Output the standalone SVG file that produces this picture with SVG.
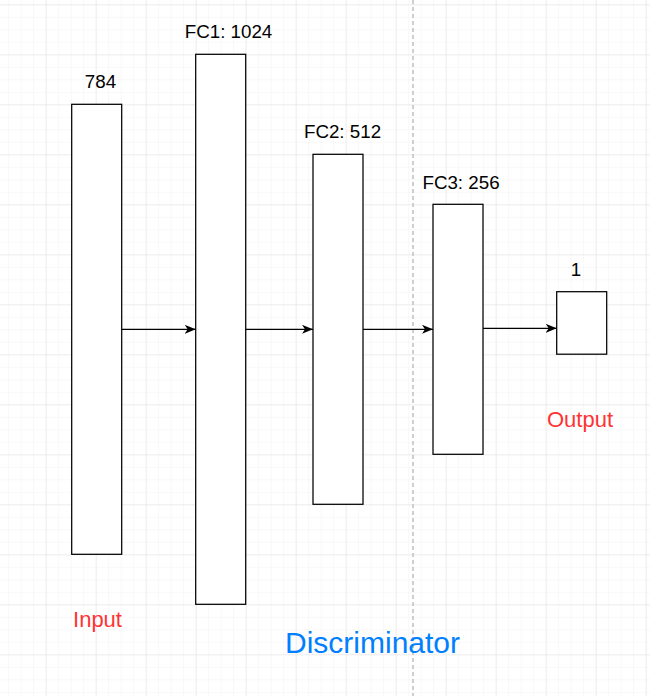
<svg xmlns="http://www.w3.org/2000/svg" width="650" height="696" viewBox="0 0 650 696">
  <defs>
    <pattern id="minor" x="8.2" y="4.3" width="12.5" height="12.5" patternUnits="userSpaceOnUse">
      <path d="M0,0 H12.5 M0,0 V12.5" fill="none" stroke="#f2f2f2" stroke-width="1"/>
    </pattern>
    <pattern id="major" x="45.7" y="4.3" width="50" height="50" patternUnits="userSpaceOnUse">
      <path d="M0,0 H50 M0,0 V50" fill="none" stroke="#e4e4e4" stroke-width="1"/>
    </pattern>
    <marker id="arrow" viewBox="0 0 11 9" refX="11" refY="4.5" markerWidth="11" markerHeight="9" markerUnits="userSpaceOnUse" orient="auto">
      <path d="M0,0 L11,4.5 L0,9 L3,4.5 Z" fill="#000"/>
    </marker>
    <style>
      .box { fill: #fff; stroke: #000; stroke-width: 1.25; }
      .lbl { font-family: "Liberation Sans", Arial, sans-serif; font-size: 18.75px; fill: #000; text-anchor: middle; }
      .red { font-family: "Liberation Sans", Arial, sans-serif; font-size: 22px; fill: #ff3333; text-anchor: middle; }
      .blue { font-family: "Liberation Sans", Arial, sans-serif; font-size: 30px; fill: #007fff; text-anchor: middle; }
      .conn { stroke: #000; stroke-width: 1.25; fill: none; marker-end: url(#arrow); }
    </style>
  </defs>
  <rect width="650" height="696" fill="#fff"/>
  <rect width="650" height="696" fill="url(#minor)"/>
  <rect width="650" height="696" fill="url(#major)"/>
  <line x1="413" y1="0" x2="413" y2="696" stroke="#c0c0c0" stroke-width="1.5" stroke-dasharray="4 3"/>

  <g id="connectors">
    <line class="conn" x1="121.7" y1="329.3" x2="195.7" y2="329.3"/>
    <line class="conn" x1="245.7" y1="329.3" x2="313" y2="329.3"/>
    <line class="conn" x1="363" y1="329.3" x2="433" y2="329.3"/>
    <line class="conn" x1="483" y1="328.3" x2="556.7" y2="328.3"/>
  </g>

  <g id="input">
    <rect class="box" x="71.7" y="104.3" width="50" height="450"/>
    <text class="lbl" x="100.5" y="88">784</text>
    <text class="red" x="97.5" y="627.3">Input</text>
  </g>
  <g id="fc1">
    <rect class="box" x="195.7" y="54.3" width="50" height="550"/>
    <text class="lbl" x="228.5" y="38">FC1: 1024</text>
  </g>
  <g id="fc2">
    <rect class="box" x="313" y="154.3" width="50" height="350"/>
    <text class="lbl" x="342.5" y="138">FC2: 512</text>
  </g>
  <g id="fc3">
    <rect class="box" x="433" y="204.3" width="50" height="250"/>
    <text class="lbl" x="461" y="189">FC3: 256</text>
  </g>
  <g id="output">
    <rect class="box" x="556.7" y="291.7" width="50" height="62.5"/>
    <text class="lbl" x="576" y="276">1</text>
    <text class="red" x="580" y="427.3">Output</text>
  </g>
  <g id="title">
    <text class="blue" x="372.5" y="653.3">Discriminator</text>
  </g>
</svg>
